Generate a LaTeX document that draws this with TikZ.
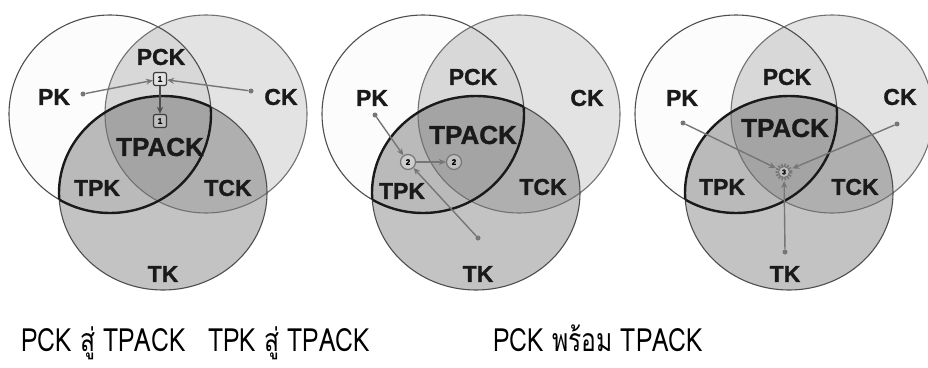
\documentclass[tikz,border=0pt]{standalone}
\usepackage{fontspec}
\setmainfont{Liberation Sans}
\newfontfamily\labelfont[FakeBold=1.2]{Liberation Sans Bold}
\newfontfamily\thaifont[Script=Thai,FakeStretch=0.77]{Loma}
\usetikzlibrary{arrows.meta}

\definecolor{ink}{HTML}{1A1A1A}
\definecolor{rimgray}{HTML}{4E4E4E}
\definecolor{arrowgray}{HTML}{767676}
\definecolor{pkfill}{HTML}{FCFCFC}
\definecolor{ckfill}{HTML}{E3E3E3}
\definecolor{pckfill}{HTML}{D8D8D8}
\definecolor{tkfill}{HTML}{C3C3C3}
\definecolor{tpkfill}{HTML}{BABABA}
\definecolor{tckfill}{HTML}{AFAFAF}
\definecolor{tpackfill}{HTML}{A4A4A4}

% the three knowledge circles of one panel
\def\pkcirc{(110,114) ellipse [x radius=101, y radius=99]}
\def\ckcirc{(206,114) ellipse [x radius=101, y radius=99]}
\def\tkcirc{(163,193) ellipse [x radius=104, y radius=97]}

\tikzset{
  lbl/.style={font=\labelfont\fontsize{23}{25}\selectfont, text=ink, inner sep=0pt},
  core/.style={font=\labelfont\fontsize{26}{28}\selectfont, text=ink, inner sep=0pt},
  rim/.style={draw=rimgray, line width=1.1pt},
  bold rim/.style={draw=ink, line width=2.4pt},
  src/.style={circle, fill=arrowgray, inner sep=0pt, minimum size=5pt},
  flow/.style={draw=arrowgray, line width=1.4pt, -{Stealth[length=7pt,width=6pt]}},
  stepsq/.style={draw=ink!85, rounded corners=2pt, line width=1.2pt, minimum size=13pt,
    inner sep=0pt, fill=white, fill opacity=.3, text opacity=1, font=\labelfont\fontsize{8}{8}\selectfont},
  stepring/.style={circle, draw=arrowgray, line width=1.2pt, minimum size=15pt, inner sep=0pt,
    fill=white, fill opacity=.3, text opacity=1, font=\labelfont\fontsize{8}{8}\selectfont},
  gear/.style={circle, draw=arrowgray, line width=1pt, minimum size=11pt, inner sep=0pt,
    fill=white, fill opacity=.3, text opacity=1, font=\labelfont\fontsize{7}{7}\selectfont},
  teeth/.style={draw=arrowgray, line width=3pt, dash pattern=on 1.5pt off 1.5pt},
  caption/.style={font=\thaifont\fontsize{32}{34}\selectfont, anchor=base west, inner sep=0pt}
}

\begin{document}
\begin{tikzpicture}[x=1pt,y=-1pt]
  \useasboundingbox[fill=white] (0,0) rectangle (928,367);

  \foreach \dx in {0,313,626}{
    \begin{scope}[xshift=\dx]
      \fill[pkfill] \pkcirc;
      \fill[ckfill] \ckcirc;
      \begin{scope} \clip \pkcirc; \fill[pckfill] \ckcirc; \end{scope}
      \fill[tkfill] \tkcirc;
      \begin{scope} \clip \tkcirc; \fill[tpkfill] \pkcirc; \end{scope}
      \begin{scope} \clip \tkcirc; \fill[tckfill] \ckcirc; \end{scope}
      \begin{scope} \clip \tkcirc; \clip \pkcirc; \fill[tpackfill] \ckcirc; \end{scope}
      \draw[rim] \pkcirc;
      \draw[rim,draw=rimgray!80] \ckcirc;
      \draw[rim] \tkcirc;
      \begin{scope} \clip \pkcirc; \draw[bold rim] \tkcirc; \end{scope}
      \begin{scope} \clip \tkcirc; \draw[bold rim] \pkcirc; \end{scope}
    \end{scope}
  }

  % panel 1: PCK to TPACK
  \node[lbl] (pk1) at (54,97) {PK};
  \node[lbl] (ck1) at (281,97) {CK};
  \node[lbl] (pck1) at (161,57) {PCK};
  \node[core] (tpack1) at (160,147) {TPACK};
  \node[lbl] (tpk1) at (97,188) {TPK};
  \node[lbl] (tck1) at (228,188) {TCK};
  \node[lbl] (tk1) at (163,274) {TK};
  \node[stepsq] (sq1a) at (160,79) {1};
  \node[stepsq] (sq1b) at (160,121) {1};
  \node[src] (pk1src) at (83,94) {};
  \node[src] (ck1src) at (251,91) {};
  \draw[flow] (pk1src) -- (sq1a);
  \draw[flow] (ck1src) -- (sq1a);
  \draw[flow,draw=rimgray] (sq1a) -- (sq1b);

  % panel 2: TPK to TPACK
  \node[lbl] (pk2) at (372,98) {PK};
  \node[lbl] (ck2) at (587,98) {CK};
  \node[lbl] (pck2) at (473,77) {PCK};
  \node[core] (tpack2) at (473,135) {TPACK};
  \node[lbl] (tpk2) at (402,191) {TPK};
  \node[lbl] (tck2) at (543,187) {TCK};
  \node[lbl] (tk2) at (478,274) {TK};
  \node[stepring] (ring2a) at (408,162) {2};
  \node[stepring] (ring2b) at (454,162) {2};
  \node[src] (pk2src) at (375,115) {};
  \node[src] (tk2src) at (478,238) {};
  \draw[flow] (pk2src) -- (ring2a);
  \draw[flow] (tk2src) -- (ring2a);
  \draw[flow] (ring2a) -- (ring2b);

  % panel 3: PCK together with TPACK
  \node[lbl] (pk3) at (682,98) {PK};
  \node[lbl] (ck3) at (900,97) {CK};
  \node[lbl] (pck3) at (787,77) {PCK};
  \node[core] (tpack3) at (785,128) {TPACK};
  \node[lbl] (tpk3) at (722,187) {TPK};
  \node[lbl] (tck3) at (855,187) {TCK};
  \node[lbl] (tk3) at (785,274) {TK};
  \node[gear] (gear3) at (784,172) {3};
  \draw[teeth] (gear3.center) circle (7);
  \node[src] (pk3src) at (683,123) {};
  \node[src] (ck3src) at (897,124) {};
  \node[src] (tk3src) at (785,252) {};
  \draw[flow,shorten >=3pt] (pk3src) -- (gear3);
  \draw[flow,shorten >=3pt] (ck3src) -- (gear3);
  \draw[flow,shorten >=3pt] (tk3src) -- (gear3);

  % captions
  \node[caption] (cap1) at (21,351) {PCK สู่ TPACK};
  \node[caption] (cap2) at (208,351) {TPK สู่ TPACK};
  \node[caption] (cap3) at (493,351) {PCK พร้อม TPACK};
\end{tikzpicture}
\end{document}
